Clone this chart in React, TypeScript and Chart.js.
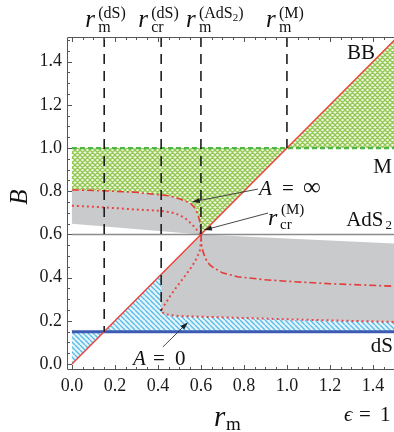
import { useEffect, useRef } from 'react';
import { Chart, registerables } from 'chart.js';

Chart.register(...registerables);

const SERIF = '"Liberation Serif", "Times New Roman", Times, serif';

// ---- axis ticks ----
const xTicks = [0, 0.2, 0.4, 0.6, 0.8, 1.0, 1.2, 1.4];
const yTicks = [0, 0.2, 0.4, 0.6, 0.8, 1.0, 1.2, 1.4];

// ---- horizon levels of B ----
const levelDS = 0.15;
const levelAdS2 = 0.6;
const levelM = 1.0;
const rEnd = 1.5;

// ---- vertical guides: r_m^(dS), r_cr^(dS), r_m^(AdS2), r_m^(M) and where they stop ----
const guideR = [0.15, 0.415, 0.6, 1.0];
const guideLow = [0.15, 0.245, 0.6, 1.0];

// ---- A = infinity curve (dash-dot), branch above AdS2 ----
const infUpperR = [0, 0.1, 0.2, 0.3, 0.36, 0.45, 0.5, 0.55, 0.57, 0.585, 0.595, 0.6];
const infUpperB = [0.806, 0.804, 0.8, 0.795, 0.788, 0.779, 0.765, 0.745, 0.725, 0.695, 0.66, 0.6];
// branch below AdS2
const infLowerR = [0.6, 0.603, 0.61, 0.62, 0.64, 0.66, 0.7, 0.77, 0.9, 1.05, 1.2, 1.35, 1.5];
const infLowerB = [0.6, 0.55, 0.52, 0.49, 0.46, 0.445, 0.422, 0.404, 0.39, 0.38, 0.372, 0.366, 0.36];

// ---- dotted curves ----
const dotUpperR = [0, 0.1, 0.2, 0.3, 0.4, 0.46, 0.5, 0.53, 0.56, 0.58, 0.595, 0.6];
const dotUpperB = [0.733, 0.728, 0.722, 0.715, 0.71, 0.703, 0.69, 0.672, 0.645, 0.622, 0.605, 0.6];
const dotDiagR = [0.6, 0.6, 0.595, 0.58, 0.56, 0.535, 0.51, 0.48, 0.455, 0.435, 0.42, 0.415];
const dotDiagB = [0.6, 0.57, 0.525, 0.49, 0.455, 0.42, 0.387, 0.348, 0.312, 0.28, 0.258, 0.245];
// A = 0 floor
const dotFloorR = [0.415, 0.43, 0.46, 0.5, 0.6, 0.8, 1.0, 1.2, 1.5];
const dotFloorB = [0.245, 0.232, 0.226, 0.222, 0.219, 0.213, 0.207, 0.202, 0.195];

// ---- edges of the grey band ----
const greyLeftR = [0, 0.6];
const greyLeftB = [0.65, 0.6];
const greyRightR = [0.6, 1.5];
const greyRightB = [0.6, 0.558];

type P = { x: number; y: number };
const pts = (xs: number[], ys: number[]): P[] => xs.map((x, i) => ({ x, y: ys[i] }));
const rev = (a: P[]) => a.slice().reverse();

function crossHatch(): CanvasPattern {
  const n = 5;
  const c = document.createElement('canvas');
  c.width = n;
  c.height = n;
  const g = c.getContext('2d')!;
  g.fillStyle = '#eef7e2';
  g.fillRect(0, 0, n, n);
  g.strokeStyle = '#93c752';
  g.lineWidth = 1.25;
  g.beginPath();
  for (const o of [-n, 0, n]) {
    g.moveTo(o, 0);
    g.lineTo(o + n, n);
    g.moveTo(o + n, 0);
    g.lineTo(o, n);
  }
  g.stroke();
  return g.createPattern(c, 'repeat')!;
}

function diagHatch(): CanvasPattern {
  const n = 5;
  const c = document.createElement('canvas');
  c.width = n;
  c.height = n;
  const g = c.getContext('2d')!;
  g.fillStyle = '#e6f5fc';
  g.fillRect(0, 0, n, n);
  g.strokeStyle = '#58bce8';
  g.lineWidth = 1.4;
  g.beginPath();
  for (const o of [-n, 0, n]) {
    g.moveTo(o, 0);
    g.lineTo(o + n, n);
  }
  g.stroke();
  return g.createPattern(c, 'repeat')!;
}

interface Piece { t: string; f: string; x?: number; dy?: number }
function drawPieces(ctx: CanvasRenderingContext2D, x0: number, y0: number, pieces: Piece[]) {
  let cx = x0;
  for (const p of pieces) {
    ctx.font = p.f;
    const px = p.x !== undefined ? x0 + p.x : cx;
    ctx.fillText(p.t, px, y0 + (p.dy ?? 0));
    cx = px + ctx.measureText(p.t).width;
  }
  return cx;
}

function arrow(ctx: CanvasRenderingContext2D, x1: number, y1: number, x2: number, y2: number) {
  const a = Math.atan2(y2 - y1, x2 - x1);
  const L = 8;
  const W = 2.6;
  const c = Math.cos(a);
  const s = Math.sin(a);
  ctx.beginPath();
  ctx.moveTo(x1, y1);
  ctx.lineTo(x2 - L * 0.7 * c, y2 - L * 0.7 * s);
  ctx.stroke();
  ctx.beginPath();
  ctx.moveTo(x2, y2);
  ctx.lineTo(x2 - L * c + W * s, y2 - L * s - W * c);
  ctx.lineTo(x2 - L * c - W * s, y2 - L * s + W * c);
  ctx.closePath();
  ctx.fill();
}

const it = (n: number) => `italic ${n}px ${SERIF}`;
const up = (n: number) => `${n}px ${SERIF}`;

const topSup = ['(dS)', '(dS)', '(AdS', '(M)'];
const topSub = ['m', 'cr', 'm', 'm'];
const topShift = [-19, -23, -15, -21];

const decor = {
  id: 'decor',
  afterDraw(chart: any) {
    const { ctx, chartArea: a, scales } = chart;
    const X = (v: number) => scales.x.getPixelForValue(v);
    const Y = (v: number) => scales.y.getPixelForValue(v);
    ctx.save();

    // frame with inward ticks
    const fl = Math.round(a.left) + 0.5;
    const fb = Math.round(a.bottom) + 0.5;
    const ft = Math.round(a.top) + 0.5;
    ctx.strokeStyle = '#555';
    ctx.lineWidth = 1;
    ctx.beginPath();
    ctx.moveTo(a.right + 2, ft);
    ctx.lineTo(fl, ft);
    ctx.lineTo(fl, fb);
    ctx.lineTo(a.right + 2, fb);
    for (let k = 0; k <= 30; k++) {
      const v = k * 0.05;
      const len = k % 4 === 0 ? 4.5 : 2.5;
      const px = Math.round(X(v)) + 0.5;
      const py = Math.round(Y(v)) + 0.5;
      ctx.moveTo(px, fb);
      ctx.lineTo(px, fb - len);
      ctx.moveTo(px, ft);
      ctx.lineTo(px, ft + len);
      ctx.moveTo(fl, py);
      ctx.lineTo(fl + len, py);
    }
    ctx.stroke();

    ctx.fillStyle = '#111';
    ctx.textAlign = 'left';
    ctx.textBaseline = 'alphabetic';

    // labels above the guides
    guideR.forEach((r, i) => {
      const x0 = X(r) + topShift[i];
      const pieces: Piece[] = [{ t: 'r', f: it(25), x: 0 }];
      if (topSup[i] === '(AdS') {
        pieces.push({ t: '(AdS', f: up(16), x: 13, dy: -9 }, { t: '2', f: up(11), dy: -6 }, { t: ')', f: up(16), dy: -9 });
      } else {
        pieces.push({ t: topSup[i], f: up(16), x: 13, dy: -9 });
      }
      pieces.push({ t: topSub[i], f: up(16), x: 13, dy: 5 });
      drawPieces(ctx, x0, 27, pieces);
    });

    // region names at the right edge
    ctx.font = up(21);
    ctx.fillText('BB', 347, 59);
    ctx.textAlign = 'right';
    ctx.fillText('M', 392, 173);
    ctx.fillText('dS', 393, 352);
    ctx.font = up(13);
    const w2 = ctx.measureText('2').width;
    ctx.fillText('2', 392, 229);
    ctx.font = up(21);
    ctx.fillText('AdS', 390 - w2, 226);
    ctx.textAlign = 'left';

    // annotations with arrows
    ctx.strokeStyle = '#333';
    ctx.fillStyle = '#222';
    ctx.lineWidth = 0.9;
    arrow(ctx, X(0.865), Y(0.81), X(0.558), Y(0.75));
    arrow(ctx, X(0.912), Y(0.699), X(0.614), Y(0.62));
    arrow(ctx, X(0.423), Y(0.079), X(0.54), Y(0.194));

    ctx.fillStyle = '#111';
    drawPieces(ctx, X(0.87), Y(0.782), [
      { t: 'A', f: it(21), x: 0 },
      { t: '=', f: up(21), x: 23 },
      { t: '\u221E', f: up(25), x: 44 },
    ]);
    drawPieces(ctx, X(0.912), Y(0.644), [
      { t: 'r', f: it(24), x: 0 },
      { t: '(M)', f: up(15), x: 13, dy: -11 },
      { t: 'cr', f: up(15), x: 12, dy: 4 },
    ]);
    drawPieces(ctx, X(0.284), Y(-0.005), [
      { t: 'A', f: it(21), x: 0 },
      { t: '=', f: up(21), x: 20 },
      { t: '0', f: up(21), x: 42 },
    ]);

    // axis titles
    drawPieces(ctx, 214, 426, [
      { t: 'r', f: it(29), x: 0 },
      { t: 'm', f: up(19), x: 12, dy: 4 },
    ]);
    drawPieces(ctx, 344, 421, [
      { t: '\u03F5', f: it(21), x: 0 },
      { t: '=', f: up(21), x: 15 },
      { t: '1', f: up(21), x: 36 },
    ]);
    ctx.save();
    ctx.translate(20, 197);
    ctx.rotate(-Math.PI / 2);
    ctx.font = it(25);
    ctx.textAlign = 'center';
    ctx.textBaseline = 'middle';
    ctx.fillText('B', 0, 0);
    ctx.restore();

    ctx.restore();
  },
};

export default function App() {
  const ref = useRef<HTMLCanvasElement>(null);

  useEffect(() => {
    const canvas = ref.current!;
    const green = crossHatch();
    const blue = diagHatch();

    const infUpper = pts(infUpperR, infUpperB);
    const infLower = pts(infLowerR, infLowerB);
    const dotFloor = pts(dotFloorR, dotFloorB);

    const greenLow: P[] = [{ x: 0, y: levelM }, { x: levelM, y: levelM }, ...rev(infUpper)];
    const greenHigh: P[] = [{ x: levelM, y: levelM }, { x: rEnd + 0.1, y: rEnd + 0.1 }, { x: rEnd + 0.1, y: levelM }];
    const greyLeft: P[] = [...infUpper, ...rev(pts(greyLeftR, greyLeftB))];
    const greyRight: P[] = [
      ...pts(greyRightR, greyRightB),
      ...rev(dotFloor),
      { x: guideR[1], y: guideR[1] },
    ];
    const blueZone: P[] = [
      { x: 0, y: 0 },
      { x: guideR[1], y: guideR[1] },
      ...dotFloor,
      { x: rEnd, y: levelDS },
      { x: 0, y: levelDS },
    ];

    const area = (data: P[], bg: any, order: number) => ({
      data,
      fill: 'shape',
      backgroundColor: bg,
      borderColor: 'rgba(0,0,0,0)',
      borderWidth: 0,
      pointRadius: 0,
      order,
    });
    const line = (data: P[], color: string, width: number, dash: number[], order: number) => ({
      data,
      fill: false,
      borderColor: color,
      borderWidth: width,
      borderDash: dash,
      pointRadius: 0,
      tension: 0,
      order,
    });

    const guides = guideR.map((r, i) =>
      line([{ x: r, y: 1.514 }, { x: r, y: guideLow[i] }], '#1e1e1e', 1.6, [10, 7], 1),
    );

    const chart = new Chart(canvas, {
      type: 'line',
      data: {
        datasets: [
          ...guides,
          line([{ x: 0, y: 0 }, { x: 1.6, y: 1.6 }], '#e8463c', 1.5, [], 2),
          line([{ x: 0, y: levelDS }, { x: 1.6, y: levelDS }], '#3d5bb3', 3, [], 3),
          line(infUpper, '#e23a36', 1.6, [7, 3, 2, 3], 4),
          line(infLower, '#e23a36', 1.6, [7, 3, 2, 3], 4),
          line(pts(dotUpperR, dotUpperB), '#e8474a', 2, [2, 3], 5),
          line([...pts(dotDiagR, dotDiagB), ...dotFloor.slice(1)], '#e8474a', 2, [2, 3], 5),
          line([{ x: 0, y: levelM }, { x: 1.6, y: levelM }], '#4fb845', 2.2, [5, 3], 6),
          line([{ x: 0, y: levelAdS2 }, { x: 1.6, y: levelAdS2 }], '#8c8c8c', 1.5, [], 7),
          area(greenLow, green, 8),
          area(greenHigh, green, 8),
          area(greyLeft, '#c9cacc', 9),
          area(greyRight, '#c9cacc', 9),
          area(blueZone, blue, 10),
        ] as any,
      },
      options: {
        responsive: false,
        animation: false,
        devicePixelRatio: 1,
        events: [],
        layout: { padding: { top: 37, left: 0, right: 0, bottom: 0 } },
        plugins: {
          legend: { display: false },
          tooltip: { enabled: false },
        },
        scales: {
          x: {
            type: 'linear',
            min: -0.023,
            max: 1.498,
            afterBuildTicks: (s: any) => {
              s.ticks = xTicks.map((v) => ({ value: v }));
            },
            afterFit: (s: any) => {
              s.height = 63;
            },
            grid: { display: false, drawTicks: false },
            border: { display: false },
            ticks: {
              font: { family: SERIF, size: 18 },
              color: '#1a1a1a',
              padding: 6,
              autoSkip: false,
              maxRotation: 0,
              callback: (v: any) => Number(v).toFixed(1),
            },
          },
          y: {
            type: 'linear',
            min: -0.023,
            max: 1.514,
            afterBuildTicks: (s: any) => {
              s.ticks = yTicks.map((v) => ({ value: v }));
            },
            afterFit: (s: any) => {
              s.width = 67;
            },
            grid: { display: false, drawTicks: false },
            border: { display: false },
            ticks: {
              font: { family: SERIF, size: 18 },
              color: '#1a1a1a',
              padding: 5,
              autoSkip: false,
              callback: (v: any) => Number(v).toFixed(1),
            },
          },
        },
      } as any,
      plugins: [decor],
    });

    return () => chart.destroy();
  }, []);

  return (
    <div style={{ position: 'absolute', left: 0, top: 0, width: 394, height: 432, background: '#fff' }}>
      <canvas ref={ref} width={394} height={432} style={{ display: 'block', width: 394, height: 432 }} />
    </div>
  );
}
